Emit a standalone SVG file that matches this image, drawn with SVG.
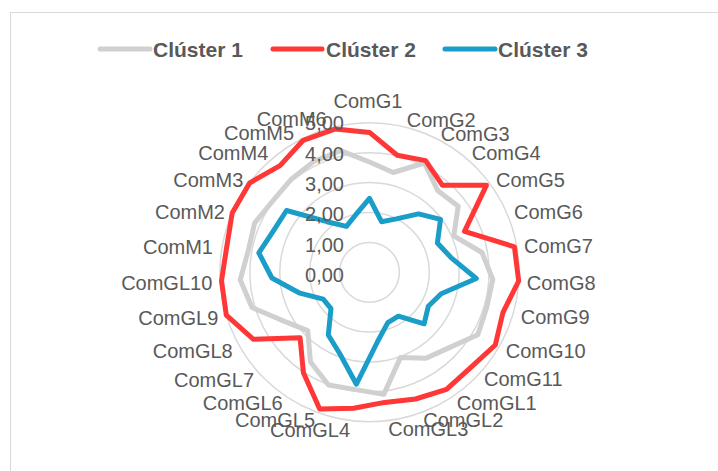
<svg xmlns="http://www.w3.org/2000/svg" width="718" height="471" viewBox="0 0 718 471">
<style>
.lbl{font-family:"Liberation Sans",Arial,sans-serif;font-size:20px;fill:#595959}
.ax{font-family:"Liberation Sans",Arial,sans-serif;font-size:20px;fill:#595959;text-anchor:end}
.leg{font-family:"Liberation Sans",Arial,sans-serif;font-size:21px;font-weight:bold;fill:#595959}
.ring{fill:none;stroke:#D9D9D9;stroke-width:1.5}
.s{fill:none;stroke-width:5;stroke-linejoin:round}
.c1{stroke:#D0D0D0}
.c2{stroke:#FF3737}
.c3{stroke:#1B9DC9}
</style>
<rect x="0" y="0" width="718" height="471" fill="#FFFFFF"/>
<rect x="10.5" y="12.5" width="720" height="470" fill="#FFFFFF" stroke="#D9D9D9" stroke-width="1"/>
<g id="legend">
<line x1="100" y1="49" x2="150" y2="49" stroke="#D0D0D0" stroke-width="5" stroke-linecap="round"/>
<text class="leg" x="153" y="56.5">Clúster 1</text>
<line x1="273" y1="49" x2="322" y2="49" stroke="#FF3737" stroke-width="5" stroke-linecap="round"/>
<text class="leg" x="326" y="56.5">Clúster 2</text>
<line x1="445" y1="49" x2="495" y2="49" stroke="#1B9DC9" stroke-width="5" stroke-linecap="round"/>
<text class="leg" x="498" y="56.5">Clúster 3</text>
</g>
<g id="grid">
<circle class="ring" cx="369.5" cy="272.3" r="29.9"/>
<circle class="ring" cx="369.5" cy="272.3" r="59.8"/>
<circle class="ring" cx="369.5" cy="272.3" r="89.7"/>
<circle class="ring" cx="369.5" cy="272.3" r="119.6"/>
<circle class="ring" cx="369.5" cy="272.3" r="149.5"/>
</g>
<g id="connectors">
<polygon id="cluster1" class="s c1" points="369.5,162.0 393.2,172.5 424.4,163.0 437.9,190.8 458.2,206.2 453.8,235.9 482.0,252.5 492.8,279.5 486.7,307.4 477.8,334.8 449.3,347.6 426.0,358.3 400.5,357.4 383.8,394.4 355.8,389.6 328.5,385.0 310.5,362.0 307.7,330.6 284.5,321.4 252.0,307.5 240.2,279.8 248.2,250.9 254.7,222.8 273.1,200.5 291.3,179.1 313.8,161.4 340.7,150.7"/>
<polygon id="cluster2" class="s c2" points="369.5,132.4 397.2,155.3 425.6,160.6 442.5,185.3 486.5,185.2 464.5,231.3 514.4,246.8 518.7,281.0 503.0,312.3 495.3,345.0 470.6,367.7 446.5,389.4 415.6,399.0 384.7,402.4 353.6,408.3 319.7,409.1 303.4,372.7 300.1,337.8 253.5,339.3 226.3,315.2 221.5,280.9 226.7,247.1 232.2,213.1 249.6,183.0 280.0,165.6 303.2,140.3 335.5,128.9"/>
<polygon id="cluster3" class="s c3" points="369.5,198.4 381.5,221.7 396.3,218.9 418.5,213.9 440.5,219.4 437.4,243.0 451.3,257.9 476.3,278.5 441.2,293.8 428.3,306.3 424.1,323.8 398.4,316.2 387.8,322.6 377.6,341.5 356.4,384.2 339.8,353.8 328.3,335.0 331.0,308.6 323.2,299.1 299.9,293.2 271.9,278.0 258.8,252.8 273.4,230.8 286.5,210.5 327.0,221.7 346.4,226.4 355.8,214.7"/>
</g>
<g id="axis-labels">
<text class="ax" x="344" y="129.5">5,00</text>
<text class="ax" x="344" y="160.5">4,00</text>
<text class="ax" x="344" y="191">3,00</text>
<text class="ax" x="344" y="221">2,00</text>
<text class="ax" x="344" y="251.5">1,00</text>
<text class="ax" x="344" y="281.5">0,00</text>
</g>
<g id="category-labels">
<text class="lbl" x="333.5" y="108">ComG1</text>
<text class="lbl" x="406.7" y="127">ComG2</text>
<text class="lbl" x="440.7" y="141">ComG3</text>
<text class="lbl" x="471.7" y="160">ComG4</text>
<text class="lbl" x="496" y="187">ComG5</text>
<text class="lbl" x="514" y="218.5">ComG6</text>
<text class="lbl" x="524" y="253">ComG7</text>
<text class="lbl" x="526.7" y="289.5">ComG8</text>
<text class="lbl" x="520.7" y="324">ComG9</text>
<text class="lbl" x="505.7" y="358">ComG10</text>
<text class="lbl" x="484" y="386">ComG11</text>
<text class="lbl" x="456.7" y="410">ComGL1</text>
<text class="lbl" x="423.3" y="427">ComGL2</text>
<text class="lbl" x="388.3" y="436">ComGL3</text>
<text class="lbl" x="270" y="437">ComGL4</text>
<text class="lbl" x="235" y="427">ComGL5</text>
<text class="lbl" x="202.7" y="410">ComGL6</text>
<text class="lbl" x="174" y="387">ComGL7</text>
<text class="lbl" x="152.7" y="357.5">ComGL8</text>
<text class="lbl" x="138.3" y="324.5">ComGL9</text>
<text class="lbl" x="212.3" y="289.5" text-anchor="end">ComGL10</text>
<text class="lbl" x="213" y="253.5" text-anchor="end">ComM1</text>
<text class="lbl" x="225" y="218.5" text-anchor="end">ComM2</text>
<text class="lbl" x="243.3" y="187" text-anchor="end">ComM3</text>
<text class="lbl" x="268.3" y="160" text-anchor="end">ComM4</text>
<text class="lbl" x="224" y="140">ComM5</text>
<text class="lbl" x="256.7" y="126">ComM6</text>
</g>
</svg>
